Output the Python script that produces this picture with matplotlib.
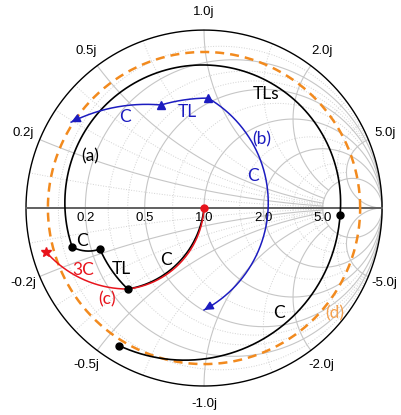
import numpy as np
import matplotlib.pyplot as plt

# normalized impedances z = r + jx
# every segment is (start, a point about half way, end)
blue_tl = (0.462 + 0.924j, 0.382 + 0.750j, 0.323 + 0.617j)
blue_c = (0.323 + 0.617j, 0.170 + 0.444j, 0.064 + 0.294j)
blue_b = (0.462 + 0.924j, 2.122 - 0.055j, 0.506 - 0.863j)

black_tls = (7.25 - 1.37j, 0.215 + 0.977j, 0.131 - 0.142j)
black_c1 = (0.131 - 0.142j, 0.178 - 0.171j, 0.236 - 0.180j)
black_tl = (0.236 - 0.180j, 0.249 - 0.276j, 0.271 - 0.405j)
black_c2 = (0.271 - 0.405j, 0.627 - 0.439j, 1.0 + 0.0j)
black_c3 = (7.25 - 1.37j, 0.253 - 1.253j, 0.063 - 0.557j)

red_c = (1.0 + 0.0j, 0.630 - 0.450j, 0.271 - 0.405j)
red_3c = (0.271 - 0.405j, 0.119 - 0.259j, 0.042 - 0.136j)

gamma_d = 0.877  # |reflection coefficient| of the dashed circle (d)

black_dots = [0.131 - 0.142j, 0.236 - 0.180j, 0.271 - 0.405j, 7.25 - 1.37j, 0.063 - 0.557j]
blue_marks = [0.462 + 0.924j, 0.323 + 0.617j]
red_dot = 1.0 + 0.0j
red_star = 0.042 - 0.136j

major_ticks = [0.2, 0.5, 1.0, 2.0, 5.0]
minor_ticks = [0.1, 0.3, 0.4, 0.7, 1.5, 3.0, 4.0]

BLUE = '#1c1cc0'
RED = '#e8141c'
ORANGE = '#f28a1e'


def gamma(z):
    z = np.asarray(z, dtype=complex)
    return (z - 1) / (z + 1)


def arc(seg, n=300):
    a, b, c = gamma(seg)
    d = 2 * (a.real * (b.imag - c.imag) + b.real * (c.imag - a.imag) + c.real * (a.imag - b.imag))
    ux = (abs(a)**2 * (b.imag - c.imag) + abs(b)**2 * (c.imag - a.imag) + abs(c)**2 * (a.imag - b.imag)) / d
    uy = (abs(a)**2 * (c.real - b.real) + abs(b)**2 * (a.real - c.real) + abs(c)**2 * (b.real - a.real)) / d
    o = complex(ux, uy)
    t0, t1, t2 = np.angle(a - o), np.angle(b - o), np.angle(c - o)
    t1 = t0 + (t1 - t0) % (2 * np.pi)
    t2 = t0 + (t2 - t0) % (2 * np.pi)
    if t1 > t2:
        t2 -= 2 * np.pi
    g = o + abs(a - o) * np.exp(1j * np.linspace(t0, t2, n))
    return g.real, g.imag


fig = plt.figure(figsize=(4.02, 4.15), dpi=100)
ax = fig.add_axes([0, 0, 1, 1])
ax.set_xlim(-1.146, 1.112)
ax.set_ylim(-1.163, 1.169)
ax.axis('off')

# grid, reactance arcs stop at the r = 5 circle except the outermost ones
rmax = max(major_ticks)
for ticks, style, col, lw in [(minor_ticks, ':', '#d2d2d2', 0.7), (major_ticks, '-', '#c6c6c6', 0.8)]:
    for v in ticks:
        xlim = 1e4 if ticks is major_ticks else rmax
        xs = np.concatenate([-np.logspace(np.log10(xlim), -3, 400), np.logspace(-3, np.log10(xlim), 400)])
        g = gamma(v + 1j * xs)
        ax.plot(g.real, g.imag, ls=style, color=col, lw=lw, zorder=1)
        rs = np.logspace(-4, 4 if v >= rmax else np.log10(rmax), 500)
        for s in (1, -1):
            g = gamma(rs + 1j * s * v)
            ax.plot(g.real, g.imag, ls=style, color=col, lw=lw, zorder=1)

t = np.linspace(0, 2 * np.pi, 600)
ax.plot(np.cos(t), np.sin(t), color='black', lw=1.0, zorder=3)
ax.plot([-1, 1], [0, 0], color='#606060', lw=1.4, zorder=3)

# tick labels
for v in major_ticks:
    ax.text(gamma(v).real, -0.056, f'{v:.1f}', ha='center', va='center',
            fontsize=9.5, family='Liberation Sans', zorder=2)
    for s in (1, -1):
        g = gamma(1j * s * v) * 1.1
        ax.text(g.real, g.imag, f'{s * v:.1f}j', ha='center', va='center',
                fontsize=9.5, family='Liberation Sans', zorder=2)

# dashed circle (d)
ax.plot(gamma_d * np.cos(t), gamma_d * np.sin(t), color=ORANGE, lw=1.8,
        ls=(0, (3.6, 2.4)), zorder=4)

for seg in [black_tls, black_c1, black_tl, black_c2, black_c3]:
    ax.plot(*arc(seg), color='black', lw=1.2, zorder=5)
for seg in [red_c, red_3c]:
    ax.plot(*arc(seg), color=RED, lw=1.1, zorder=6)
for seg in [blue_tl, blue_c, blue_b]:
    x, y = arc(seg)
    ax.plot(x, y, color=BLUE, lw=1.1, zorder=6)
for seg in [blue_c, blue_b]:
    x, y = arc(seg)
    ax.annotate('', xy=(x[-1], y[-1]), xytext=(x[-12], y[-12]),
                arrowprops=dict(arrowstyle='-|>', color=BLUE, lw=1.1,
                                mutation_scale=13, shrinkA=0, shrinkB=0), zorder=7)

g = gamma(black_dots)
ax.plot(g.real, g.imag, 'o', color='black', ms=5, zorder=8, ls='none')
g = gamma(blue_marks)
ax.plot(g.real, g.imag, '^', color=BLUE, ms=5.5, zorder=8, ls='none')
g = gamma(red_dot)
ax.plot(g.real, g.imag, 'o', color=RED, ms=5, zorder=8)
g = gamma(red_star)
ax.plot(g.real, g.imag, '*', color=RED, ms=7, zorder=8)

labels = [
    ('C', -0.444, 0.511, BLUE), ('TL', -0.093, 0.539, BLUE),
    ('(a)', -0.640, 0.292, 'black'), ('TLs', 0.348, 0.640, 'black'),
    ('(b)', 0.326, 0.388, BLUE), ('C', 0.275, 0.180, BLUE),
    ('C', -0.685, -0.188, 'black'), ('TL', -0.463, -0.340, 'black'),
    ('C', -0.213, -0.292, 'black'), ('3C', -0.677, -0.348, RED),
    ('(c)', -0.545, -0.511, RED), ('C', 0.419, -0.590, 'black'),
    ('(d)', 0.736, -0.590, '#f4a04e'),
]
for s, x, y, c in labels:
    ax.text(x, y, s, color=c, fontsize=12.5, family='Lato', ha='center', va='center', zorder=9)

fig.savefig('out.png', dpi=100)
